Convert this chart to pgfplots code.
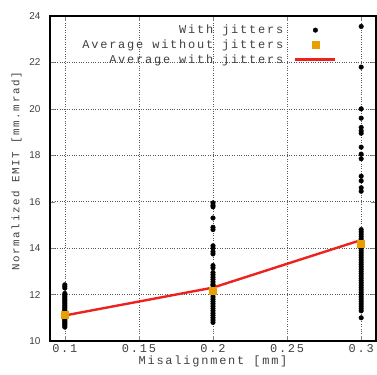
\documentclass[border=0pt]{standalone}
\usepackage{fontspec}
\setmainfont{Liberation Mono}[LetterSpace=15]
\newfontfamily\sansnum{Liberation Sans}
\usepackage{pgfplots}
\pgfplotsset{compat=1.18}
\definecolor{gporange}{RGB}{232,160,0}
\definecolor{gpred}{RGB}{237,34,30}
\begin{document}
\begin{tikzpicture}
\begin{axis}[
  scale only axis,
  width=326bp, height=325bp,
  xmin=0.09, xmax=0.31, ymin=10, ymax=24,
  xtick={0.1,0.15,0.2,0.25,0.3},
  xticklabels={0.1,0.15,0.2,0.25,0.3},
  ytick={10,12,14,16,18,20,22,24},
  /pgf/number format/assume math mode=true,
  xticklabel style={font=\fontsize{12}{14}\selectfont},
  yticklabel style={font=\fontsize{10}{12}\sansnum, xshift=-6bp},
  xlabel={Misalignment [mm]},
  ylabel={Normalized EMIT [mm.mrad]},
  label style={font=\fontsize{12}{14}\selectfont, text=black!75},
  ticklabel style={text=black!75},
  xlabel style={yshift=4bp},
  ylabel style={font=\fontsize{10.9}{13}\selectfont, at={(ticklabel cs:0.522)}, yshift=1bp},
  grid=major,
  major grid style={dotted, black!65, line width=0.5pt},
  tick align=inside,
  major tick length=5bp,
  axis line style={line width=1.2pt},
  legend cell align=right,
  legend plot pos=right,
  legend image code/.code={\path (0bp,0bp) (40bp,0bp);
    \draw[mark repeat=2,mark phase=2,#1] plot coordinates {(0bp,0bp)(20bp,0bp)(40bp,0bp)};},
  legend style={draw=none, fill=none, at={(0.889,0.985)}, anchor=north east,
    font=\fontsize{12}{14}\selectfont, text=black!75, row sep=0.5bp,
    /tikz/every odd column/.append style={column sep=9bp}},
]
\addplot[only marks, mark=*, mark size=2.3bp, black, forget plot] coordinates {
(0.1,12.42)(0.1,12.35)(0.1,12.28)(0.1,12.05)(0.1,11.98)(0.1,11.92)(0.1,11.85)(0.1,11.8)(0.1,11.74)(0.1,11.68)(0.1,11.62)(0.1,11.55)(0.1,11.5)(0.1,11.44)(0.1,11.38)(0.1,11.32)(0.1,11.26)(0.1,11.2)(0.1,11.15)(0.1,11.1)(0.1,11.05)(0.1,11.0)(0.1,10.95)(0.1,10.9)(0.1,10.85)(0.1,10.8)(0.1,10.75)(0.1,10.7)(0.1,10.65)(0.1,10.6)
(0.2,15.95)(0.2,15.85)(0.2,15.78)(0.2,15.3)(0.2,14.9)(0.2,14.8)(0.2,14.1)(0.2,14.0)(0.2,13.85)(0.2,13.75)(0.2,13.25)(0.2,13.15)(0.2,12.95)(0.2,12.85)(0.2,12.75)(0.2,12.65)(0.2,12.55)(0.2,12.45)(0.2,12.4)(0.2,12.3)(0.2,12.2)(0.2,12.1)(0.2,12.0)(0.2,11.9)(0.2,11.8)(0.2,11.7)(0.2,11.6)(0.2,11.5)(0.2,11.4)(0.2,11.3)(0.2,11.2)(0.2,11.1)(0.2,11.0)(0.2,10.9)(0.2,10.8)
(0.3,23.55)(0.3,21.8)(0.3,20.0)(0.3,19.6)(0.3,19.2)(0.3,19.05)(0.3,18.95)(0.3,18.35)(0.3,18.05)(0.3,17.85)(0.3,17.1)(0.3,16.9)(0.3,16.6)(0.3,16.45)(0.3,14.8)(0.3,14.7)(0.3,14.6)(0.3,14.5)(0.3,14.4)(0.3,14.3)(0.3,14.2)(0.3,14.1)(0.3,14.0)(0.3,13.9)(0.3,13.8)(0.3,13.7)(0.3,13.6)(0.3,13.5)(0.3,13.4)(0.3,13.3)(0.3,13.2)(0.3,13.1)(0.3,13.0)(0.3,12.9)(0.3,12.8)(0.3,12.7)(0.3,12.6)(0.3,12.5)(0.3,12.4)(0.3,12.3)(0.3,12.2)(0.3,12.1)(0.3,12.0)(0.3,11.9)(0.3,11.8)(0.3,11.7)(0.3,11.6)(0.3,11.5)(0.3,11.4)(0.3,11.3)(0.3,11.0)
};
\addplot[gpred, line width=2.4pt, mark=none, forget plot] coordinates {(0.1,11.1)(0.2,12.3)(0.3,14.35)};
\addplot[only marks, mark=square*, mark size=3.5bp, gporange, forget plot] coordinates {(0.1,11.12)(0.2,12.18)(0.3,14.18)};
\addlegendimage{only marks, mark=*, mark size=2.3bp, black}
\addlegendentry{With jitters}
\addlegendimage{only marks, mark=square*, mark size=3.5bp, gporange}
\addlegendentry{Average without jitters}
\addlegendimage{gpred, line width=2.4pt, mark=none}
\addlegendentry{Average with jitters}
\end{axis}
\pgfresetboundingbox
\path (current axis.south west) ++(-50bp,-34bp) coordinate (bl);
\path (current axis.north east) ++(1bp,16bp) coordinate (tr);
\path[use as bounding box] (bl) rectangle (tr);
\end{tikzpicture}
\end{document}
